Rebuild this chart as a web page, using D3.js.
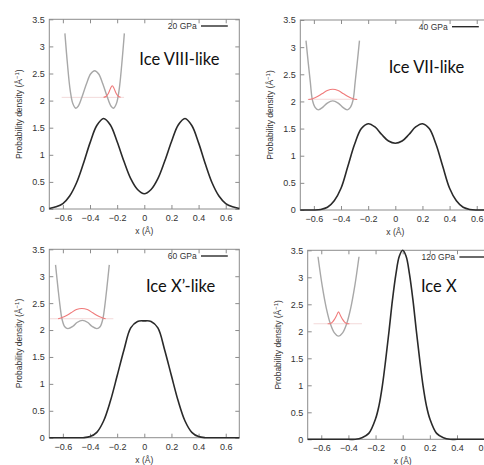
<!DOCTYPE html>
<html>
<head>
<meta charset="utf-8">
<script src="https://cdn.jsdelivr.net/npm/d3@7"></script>
<style>
	body { margin: 0; background: #fff; }
	svg { display: block; }
</style>
</head>
<body>
<div id="chart"></div>
<script>
// Proton probability density along the O-H-O bond, four pressures

const xTicks = [-0.6, -0.4, -0.2, 0, 0.2, 0.4, 0.6];
const yTicks = [0, 0.5, 1, 1.5, 2, 2.5, 3, 3.5];
const pressures = ["20 GPa", "40 GPa", "60 GPa", "120 GPa"];
const phaseNames = ["Ice VIII-like", "Ice VII-like", "Ice X\u2019-like", "Ice X"];

// main curves
const xGrid = [-0.7, -0.65, -0.6, -0.55, -0.5, -0.45, -0.4, -0.35, -0.3, -0.25, -0.2, -0.15, -0.1, -0.05, 0,
	0.05, 0.1, 0.15, 0.2, 0.25, 0.3, 0.35, 0.4, 0.45, 0.5, 0.55, 0.6, 0.65, 0.7];
const density20 = [0.01, 0.04, 0.10, 0.24, 0.48, 0.83, 1.22, 1.54, 1.67, 1.55, 1.24, 0.88, 0.56, 0.36, 0.28,
	0.36, 0.56, 0.88, 1.24, 1.55, 1.67, 1.54, 1.22, 0.83, 0.48, 0.24, 0.10, 0.04, 0.01];
const density40 = [0, 0, 0, 0.01, 0.05, 0.17, 0.40, 0.80, 1.21, 1.50, 1.59, 1.53, 1.39, 1.27, 1.23,
	1.27, 1.39, 1.53, 1.59, 1.50, 1.21, 0.80, 0.40, 0.17, 0.05, 0.01, 0, 0, 0];
const density60 = [0, 0, 0, 0, 0, 0, 0.02, 0.10, 0.31, 0.68, 1.15, 1.63, 2.04, 2.16, 2.17,
	2.16, 2.04, 1.63, 1.15, 0.68, 0.31, 0.10, 0.02, 0, 0, 0, 0, 0, 0];
const xGrid120 = [-0.7, -0.6, -0.5, -0.4, -0.35, -0.3, -0.25, -0.2, -0.175, -0.15, -0.125, -0.1, -0.075, -0.05, -0.025, 0,
	0.025, 0.05, 0.075, 0.1, 0.125, 0.15, 0.175, 0.2, 0.25, 0.3, 0.35, 0.4, 0.5, 0.6, 0.7];
const density120 = [0, 0, 0, 0, 0, 0.03, 0.11, 0.38, 0.62, 0.99, 1.48, 2.02, 2.59, 3.06, 3.39, 3.50,
	3.39, 3.06, 2.59, 2.02, 1.48, 0.99, 0.62, 0.38, 0.11, 0.03, 0, 0, 0, 0, 0];

// insets: potential (grey), ground level (faint line), wave function (red), in the plot's own units
const pot20X = [-0.585, -0.566, -0.546, -0.526, -0.505, -0.486, -0.456, -0.426, -0.396, -0.366, -0.336, -0.306, -0.276, -0.246, -0.227, -0.206, -0.186, -0.166, -0.147];
const pot20V = [3.24, 2.67, 2.19, 1.94, 1.86, 1.90, 2.09, 2.31, 2.49, 2.55, 2.49, 2.31, 2.09, 1.90, 1.86, 1.94, 2.19, 2.67, 3.24];
const wave20X = [-0.300, -0.280, -0.265, -0.250, -0.236, -0.222, -0.207, -0.192, -0.175];
const wave20Y = [2.06, 2.08, 2.13, 2.22, 2.275, 2.22, 2.13, 2.08, 2.06];
const level20 = [-0.609, -0.149, 2.06];

const pot40X = [-0.658, -0.641, -0.626, -0.611, -0.591, -0.568, -0.531, -0.501, -0.461, -0.421, -0.391, -0.354, -0.331, -0.311, -0.296, -0.281, -0.264];
const pot40V = [3.12, 2.70, 2.35, 2.03, 1.89, 1.845, 1.90, 1.97, 2.01, 1.97, 1.90, 1.845, 1.89, 2.03, 2.35, 2.70, 3.12];
const wave40X = [-0.641, -0.611, -0.581, -0.541, -0.501, -0.461, -0.421, -0.381, -0.341, -0.311, -0.281];
const wave40Y = [2.035, 2.05, 2.08, 2.14, 2.20, 2.225, 2.20, 2.14, 2.08, 2.05, 2.035];
const level40 = [-0.645, -0.28, 2.04];

const pot60X = [-0.654, -0.636, -0.621, -0.606, -0.586, -0.563, -0.526, -0.496, -0.456, -0.416, -0.386, -0.349, -0.326, -0.306, -0.291, -0.276, -0.258];
const pot60V = [3.21, 2.78, 2.45, 2.20, 2.06, 2.026, 2.07, 2.14, 2.18, 2.14, 2.07, 2.026, 2.06, 2.20, 2.45, 2.78, 3.21];
const wave60X = [-0.635, -0.61, -0.58, -0.54, -0.50, -0.46, -0.42, -0.38, -0.34, -0.31, -0.285];
const wave60Y = [2.21, 2.23, 2.26, 2.32, 2.38, 2.40, 2.38, 2.32, 2.26, 2.23, 2.21];
const level60 = [-0.695, -0.228, 2.21];

const pot120X = [-0.624, -0.593, -0.563, -0.533, -0.503, -0.473, -0.443, -0.413, -0.383, -0.353, -0.322];
const pot120V = [3.38, 2.84, 2.43, 2.14, 1.97, 1.91, 1.97, 2.14, 2.43, 2.84, 3.38];
const wave120X = [-0.553, -0.533, -0.518, -0.503, -0.488, -0.473, -0.458, -0.443, -0.428, -0.413, -0.393];
const wave120Y = [2.14, 2.145, 2.17, 2.22, 2.29, 2.36, 2.29, 2.22, 2.17, 2.145, 2.14];
const level120 = [-0.657, -0.30, 2.14];

// where each panel sits on the page
const layouts = [
	{ left: 49.3, top: 19.3, h: 189.7, titleX: 90, titleY: 46 },
	{ left: 300.3, top: 20, h: 190, titleX: 88.4, titleY: 52.6 },
	{ left: 49.3, top: 249.3, h: 188.4, titleX: 96.7, titleY: 43 },
	{ left: 307.7, top: 250.3, h: 189, titleX: 113.3, titleY: 42 }
];

const panels = [
	{ xs: xGrid, ys: density20, potX: pot20X, potV: pot20V, waveX: wave20X, waveY: wave20Y, level: level20 },
	{ xs: xGrid, ys: density40, potX: pot40X, potV: pot40V, waveX: wave40X, waveY: wave40Y, level: level40 },
	{ xs: xGrid, ys: density60, potX: pot60X, potV: pot60V, waveX: wave60X, waveY: wave60Y, level: level60 },
	{ xs: xGrid120, ys: density120, potX: pot120X, potV: pot120V, waveX: wave120X, waveY: wave120Y, level: level120 }
];

const plotW = 190;
const tickFont = "'Liberation Sans', Arial, sans-serif";
const borderColor = "#8c8c8c";

const svg = d3.select("#chart")
	.append("svg")
		.attr("width", 484).attr("height", 465);

const fmt = d3.format("~g");

panels.forEach((p, i) => {
	const lay = layouts[i];
	const g = svg.append("g").attr("transform", `translate(${lay.left}, ${lay.top})`);
	const x = d3.scaleLinear().domain([-0.7, 0.7]).range([0, plotW]);
	const y = d3.scaleLinear().domain([0, 3.5]).range([lay.h, 0]);

	// axes, gnuplot style: ticks pointing in, mirrored on top/right
	const styleAxis = sel => {
		sel.select(".domain").remove();
		sel.selectAll(".tick line").attr("stroke", borderColor);
		sel.selectAll(".tick text").attr("fill", "#333").style("font-family", tickFont).style("font-size", "9px");
	};
	g.append("g").attr("transform", `translate(0, ${lay.h})`)
		.call(d3.axisBottom(x).tickValues(xTicks).tickFormat(fmt).tickSizeInner(-4).tickSizeOuter(0).tickPadding(5.5))
		.call(styleAxis);
	g.append("g")
		.call(d3.axisTop(x).tickValues(xTicks).tickFormat("").tickSizeInner(-4).tickSizeOuter(0))
		.call(styleAxis);
	g.append("g")
		.call(d3.axisLeft(y).tickValues(yTicks).tickFormat(fmt).tickSizeInner(-4).tickSizeOuter(0).tickPadding(4.5))
		.call(styleAxis);
	g.append("g").attr("transform", `translate(${plotW}, 0)`)
		.call(d3.axisRight(y).tickValues(yTicks).tickFormat("").tickSizeInner(-4).tickSizeOuter(0))
		.call(styleAxis);

	g.append("rect")
		.attr("width", plotW).attr("height", lay.h)
		.attr("fill", "none").attr("stroke", borderColor).attr("stroke-width", 1);

	// axis labels
	g.append("text")
		.attr("x", plotW / 2).attr("y", lay.h + 25)
		.attr("text-anchor", "middle")
		.style("font-family", tickFont).style("font-size", "8.5px").attr("fill", "#333")
		.text("x (\u00c5)");
	const yl = g.append("text")
		.attr("transform", `translate(-27, ${lay.h / 2}) rotate(-90)`)
		.attr("text-anchor", "middle")
		.style("font-family", tickFont).style("font-size", "8.5px").attr("fill", "#333");
	yl.append("tspan").text("Probability density (\u00c5");
	yl.append("tspan").attr("dy", -3).style("font-size", "6px").text("\u22121");
	yl.append("tspan").attr("dy", 3).text(")");

	// inset
	const line = d3.line().x(d => x(d[0])).y(d => y(d[1])).curve(d3.curveCatmullRom);
	g.append("line")
		.attr("x1", x(p.level[0])).attr("x2", x(p.level[1]))
		.attr("y1", y(p.level[2])).attr("y2", y(p.level[2]))
		.attr("stroke", "#f3dada").attr("stroke-width", 1);
	g.append("path")
		.attr("d", line(p.potX.map((v, j) => [v, p.potV[j]])))
		.attr("fill", "none").attr("stroke", "#a8a8a8").attr("stroke-width", 1.4);
	g.append("path")
		.attr("d", line(p.waveX.map((v, j) => [v, p.waveY[j]])))
		.attr("fill", "none").attr("stroke", "#f07a7a").attr("stroke-width", 1.1);

	// density
	g.append("path")
		.attr("d", line(p.xs.map((v, j) => [v, p.ys[j]])))
		.attr("fill", "none").attr("stroke", "#2a2a2a").attr("stroke-width", 1.6);

	// key
	g.append("text")
		.attr("x", 147.4).attr("y", 9.7)
		.attr("text-anchor", "end")
		.style("font-family", tickFont).style("font-size", "8.5px").attr("fill", "#333")
		.text(pressures[i]);
	g.append("line")
		.attr("x1", 151.7).attr("x2", 178.5).attr("y1", 6.7).attr("y2", 6.7)
		.attr("stroke", "#2a2a2a").attr("stroke-width", 1.4);

	// phase name
	g.append("text")
		.attr("x", lay.titleX).attr("y", lay.titleY)
		.style("font-family", "Lato, 'Open Sans', sans-serif").style("font-size", "16.5px").attr("fill", "#111")
		.text(phaseNames[i]);
});
</script>
</body>
</html>
